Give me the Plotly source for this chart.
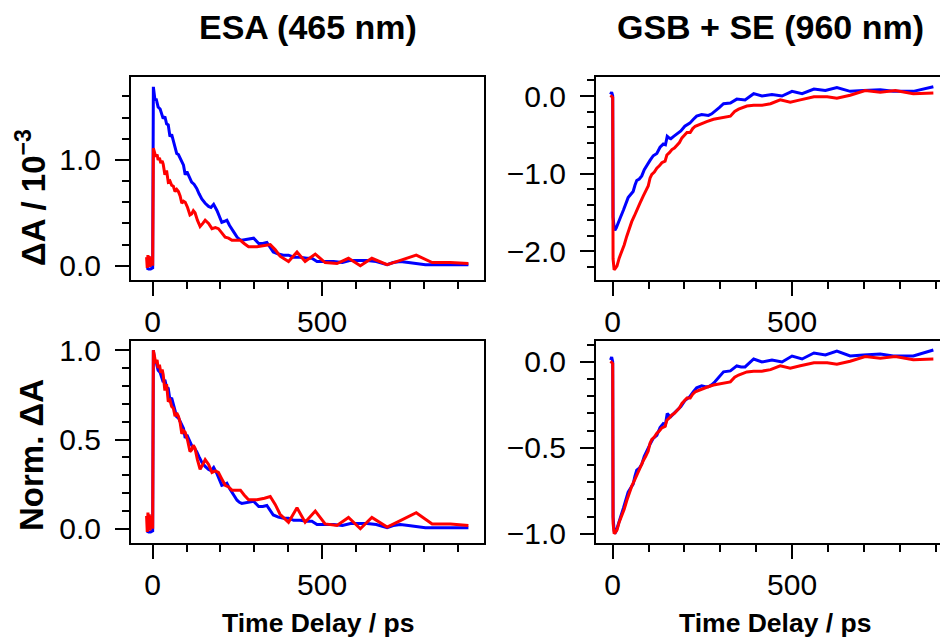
import plotly.graph_objects as go

# ---------------- data ----------------
# ESA (465 nm) raw, units 1e-3
esa_blue_t = [-18, -12, -6, -3, 0, 2, 7, 10, 16, 22, 27, 31, 36, 41, 46, 51, 56, 61, 66, 71, 76, 81, 86, 91,
              96, 101, 108, 115, 122, 130, 137, 145, 155, 165, 172, 180, 190, 197, 204, 212, 219, 227, 234,
              241, 249, 256, 263, 280, 298, 313, 325, 337, 356, 371, 386, 401, 416, 435, 455, 470, 485, 510,
              534, 560, 584, 610, 633, 660, 692, 710, 731, 755, 780, 805, 830, 880, 932]
esa_blue_v = [-0.02, -0.03, -0.03, -0.02, -0.02, 1.69, 1.56, 1.58, 1.50, 1.48, 1.42, 1.39, 1.41, 1.34, 1.33,
              1.22, 1.24, 1.18, 1.12, 1.06, 1.05, 1.02, 0.98, 0.95, 0.86, 0.89, 0.84, 0.79, 0.77, 0.73, 0.68,
              0.63, 0.59, 0.56, 0.55, 0.58, 0.52, 0.46, 0.41, 0.42, 0.43, 0.38, 0.35, 0.31, 0.27, 0.25, 0.24,
              0.25, 0.26, 0.21, 0.21, 0.22, 0.13, 0.11, 0.10, 0.10, 0.08, 0.08, 0.07, 0.07, 0.04, 0.04, 0.04,
              0.03, 0.05, 0.05, 0.05, 0.04, 0.01, 0.03, 0.04, 0.03, 0.02, 0.01, 0.01, 0.01, 0.01]

esa_red_t = [-18, -16, -14, -12, -10, -8, -6, -4, -2, 0, 2, 5, 9, 13, 16, 20, 24, 28, 31, 36, 41, 46, 51, 56,
             61, 66, 71, 76, 81, 86, 91, 96, 103, 110, 115, 120, 125, 132, 140, 148, 155, 165, 175, 185, 194,
             204, 214, 224, 234, 245, 259, 270, 283, 295, 308, 330, 347, 362, 376, 401, 426, 450, 480, 509,
             544, 578, 613, 647, 692, 731, 778, 825, 879, 932]
esa_red_v = [0.08, -0.02, 0.10, 0.00, 0.09, -0.01, 0.08, 0.00, 0.06, 0.00, 1.11, 1.08, 1.03, 1.05, 1.00, 1.02,
             0.97, 0.99, 0.96, 0.86, 0.90, 0.79, 0.80, 0.76, 0.75, 0.70, 0.72, 0.70, 0.66, 0.59, 0.61, 0.60,
             0.55, 0.48, 0.49, 0.52, 0.50, 0.43, 0.37, 0.40, 0.43, 0.40, 0.35, 0.36, 0.35, 0.31, 0.27, 0.26,
             0.24, 0.24, 0.24, 0.21, 0.18, 0.18, 0.18, 0.19, 0.20, 0.15, 0.09, 0.04, 0.13, 0.04, 0.11, 0.03,
             0.02, 0.07, 0.00, 0.07, 0.01, 0.05, 0.10, 0.03, 0.03, 0.02]

# GSB + SE (960 nm) raw, units 1e-3
gsb_blue_t = [-6, -3, 0, 1, 4, 6, 10, 16, 22, 30, 36, 43, 50, 57, 62, 67, 74, 81, 88, 95, 104, 113, 123, 132,
              141, 147, 152, 157, 162, 170, 178, 190, 201, 208, 215, 225, 234, 248, 258, 267, 276, 285, 297,
              309, 328, 346, 358, 369, 393, 416, 444, 472, 500, 528, 561, 593, 625, 662, 699, 746, 782, 838, 894]
gsb_blue_v = [0.02, 0.05, 0.00, -1.56, -1.70, -1.73, -1.70, -1.64, -1.56, -1.47, -1.40, -1.31, -1.27, -1.23,
              -1.15, -1.09, -1.07, -1.03, -0.95, -0.89, -0.83, -0.77, -0.74, -0.66, -0.62, -0.63, -0.52, -0.54,
              -0.55, -0.52, -0.49, -0.45, -0.39, -0.37, -0.35, -0.30, -0.26, -0.24, -0.25, -0.25, -0.23, -0.20,
              -0.15, -0.10, -0.09, -0.04, -0.05, -0.05, 0.03, 0.00, 0.02, 0.00, 0.06, 0.03, 0.09, 0.07, 0.11,
              0.06, 0.07, 0.08, 0.06, 0.06, 0.12]

gsb_red_t = [-6, -3, 0, 1, 4, 8, 12, 18, 25, 32, 39, 46, 53, 60, 67, 76, 85, 92, 99, 104, 109, 116, 123, 130,
             137, 146, 151, 158, 165, 172, 179, 186, 193, 200, 207, 216, 223, 230, 244, 262, 281, 300, 328,
             340, 351, 374, 393, 416, 440, 467, 495, 523, 561, 598, 625, 662, 704, 746, 788, 838, 894]
gsb_red_v = [0.01, 0.00, -0.02, -2.10, -2.24, -2.22, -2.19, -2.09, -2.01, -1.92, -1.81, -1.71, -1.62, -1.55,
             -1.47, -1.38, -1.29, -1.23, -1.16, -1.06, -1.01, -0.98, -0.93, -0.90, -0.86, -0.84, -0.76, -0.73,
             -0.69, -0.67, -0.63, -0.60, -0.54, -0.50, -0.47, -0.47, -0.42, -0.39, -0.36, -0.33, -0.30, -0.28,
             -0.26, -0.20, -0.17, -0.13, -0.12, -0.12, -0.10, -0.05, -0.08, -0.05, -0.01, -0.01, -0.03, 0.01,
             0.07, 0.05, 0.07, 0.03, 0.04]

x_tickvals = [0, 500]
x_ticktext = ["0", "500"]

# normalised traces (divide each trace by its peak magnitude)
def normalise(vals):
    peak = max(abs(v) for v in vals)
    return [v / peak for v in vals]

esa_blue_n = normalise(esa_blue_v)
esa_red_n = normalise(esa_red_v)
gsb_blue_n = normalise(gsb_blue_v)
gsb_red_n = normalise(gsb_red_v)

BLUE = "#0000FF"
RED = "#FF0000"
LW = 3
FONT = "Liberation Sans, Arial, Helvetica, sans-serif"
TICKSIZE = 30

fig = go.Figure()

def add(t, v, color, xa, ya):
    fig.add_trace(go.Scatter(x=t, y=v, mode="lines", line=dict(color=color, width=LW),
                             xaxis=xa, yaxis=ya, showlegend=False, hoverinfo="skip"))

add(esa_blue_t, esa_blue_v, BLUE, "x", "y")
add(esa_red_t, esa_red_v, RED, "x", "y")
add(gsb_blue_t, gsb_blue_v, BLUE, "x2", "y2")
add(gsb_red_t, gsb_red_v, RED, "x2", "y2")
add(esa_blue_t, esa_blue_n, BLUE, "x3", "y3")
add(esa_red_t, esa_red_n, RED, "x3", "y3")
add(gsb_blue_t, gsb_blue_n, BLUE, "x4", "y4")
add(gsb_red_t, gsb_red_n, RED, "x4", "y4")

W, H = 940, 641

def dx(a, b):
    return [a / W, b / W]

def dy(top, bottom):
    return [1 - bottom / H, 1 - top / H]

def xaxis(domain, anchor, rng):
    return dict(domain=domain, anchor=anchor, range=rng, showline=True, linecolor="black", linewidth=2,
                mirror=True, ticks="outside", ticklen=14, tickwidth=2, tickcolor="black",
                tickvals=x_tickvals, ticktext=x_ticktext, showgrid=False, zeroline=False,
                tickfont=dict(family=FONT, size=TICKSIZE, color="black"), ticklabelstandoff=0,
                minor=dict(ticks="outside", ticklen=7, tickwidth=2, tickcolor="black", dtick=100,
                           tick0=0, showgrid=False),
                automargin=False, fixedrange=True)

def yaxis(domain, anchor, rng, dtick, mdtick, mirror=True):
    return dict(domain=domain, anchor=anchor, range=rng, showline=True, linecolor="black", linewidth=2,
                mirror=mirror, ticks="outside", ticklen=14, tickwidth=2, tickcolor="black",
                dtick=dtick, tick0=0, tickformat=".1f", showgrid=False, zeroline=False,
                tickfont=dict(family=FONT, size=TICKSIZE, color="black"), ticklabelstandoff=8,
                minor=dict(ticks="outside", ticklen=7, tickwidth=2, tickcolor="black", dtick=mdtick,
                           tick0=0, showgrid=False),
                automargin=False, fixedrange=True)

LX = dx(131, 484)
RX = dx(596, 940)
TY = dy(77, 280)
BY = dy(341, 543)

fig.update_layout(
    width=W, height=H, margin=dict(l=0, r=0, t=0, b=0),
    paper_bgcolor="white", plot_bgcolor="white",
    xaxis=xaxis(LX, "y", [-64, 978]),
    yaxis=yaxis(TY, "x", [-0.135, 1.783], 1.0, 0.2),
    xaxis2=xaxis(RX, "y2", [-46.6, 912.5]),
    yaxis2=yaxis(TY, "x2", [-2.372, 0.245], 1.0, 0.2, mirror=False),
    xaxis3=xaxis(LX, "y3", [-64, 978]),
    yaxis3=yaxis(BY, "x3", [-0.080, 1.052], 0.5, 0.1),
    xaxis4=xaxis(RX, "y4", [-46.6, 912.5]),
    yaxis4=yaxis(BY, "x4", [-1.054, 0.122], 0.5, 0.1, mirror=False),
)

def ann(text, x, y, size, angle=0):
    fig.add_annotation(text=text, x=x / W, y=1 - y / H, xref="paper", yref="paper",
                       showarrow=False, xanchor="center", yanchor="middle", textangle=angle,
                       font=dict(family=FONT, size=size, color="black"))

ann("<b>ESA (465 nm)</b>", 308, 27, 34)
ann("<b>GSB + SE (960 nm)</b>", 770, 27, 34)
ann("<b>ΔA / 10<sup>−3</sup></b>", 31, 198, 33, -90)
ann("<b>Norm. ΔA</b>", 31, 455, 33, -90)
ann("<b>Time Delay / ps</b>", 318, 623, 26.5)
ann("<b>Time Delay / ps</b>", 775, 623, 26.5)

fig.write_html("out.html", config={"displayModeBar": False},
               post_script="document.body.style.margin='0px';document.body.style.overflow='hidden';")
